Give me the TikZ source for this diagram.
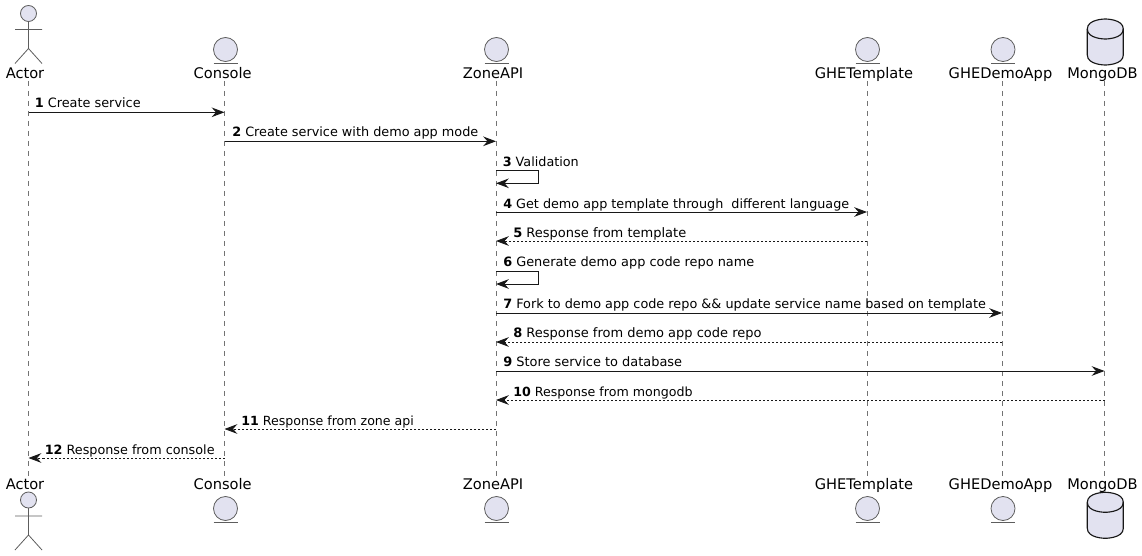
\documentclass[tikz,border=0pt]{standalone}
\usepackage{fontspec}
\setmainfont{DejaVu Sans}
\usetikzlibrary{arrows.meta}
\definecolor{partfill}{HTML}{E2E2F0}
\definecolor{linedark}{HTML}{181818}
\tikzset{
  plabel/.style={anchor=base,inner sep=0pt,font=\fontsize{10.97pt}{13pt}\selectfont,text=black},
  mlabel/.style={anchor=base west,inner sep=0pt,font=\fontsize{#1}{12pt}\selectfont,text=black},
  mlabel/.default=9.58pt,
  life/.style={draw=black!55,line width=0.55pt,dash pattern=on 3.75pt off 3.75pt},
  tip/.style={-{Stealth[length=9.6pt,width=7.2pt,inset=3.2pt]}},
  msg/.style={draw=linedark,line width=0.75pt,tip,fill=none},
  ret/.style={draw=linedark,line width=0.6pt,dash pattern=on 1.5pt off 1.5pt,tip},
  shapeline/.style={draw=linedark!70,line width=0.6pt,fill=partfill},
  pics/entitypic/.style={code={
    \draw[shapeline] (0,0) circle [radius=9pt];
    \draw[draw=linedark!70,line width=0.6pt] (-12,13.5) -- (12,13.5);
  }},
  pics/actorpic/.style={code={
    \draw[shapeline] (0,0) circle [radius=6pt];
    \draw[draw=linedark!70,line width=0.6pt] (0,8) -- (0,35) (-13.5,16) -- (13.5,16) (-13.5,50) -- (0,35) -- (13.5,50);
  }},
  pics/dbpic/.style={code={
    \draw[draw=linedark,line width=0.85pt,fill=partfill,line join=round]
      (-18,10) .. controls (-18,0) and (0,0) .. (0,0)
      .. controls (0,0) and (18,0) .. (18,10)
      -- (18,36) .. controls (18,46) and (0,46) .. (0,46)
      .. controls (0,46) and (-18,46) .. (-18,36) -- cycle;
    \draw[draw=linedark,line width=0.85pt]
      (-18,10) .. controls (-18,20) and (0,20) .. (0,20)
      .. controls (0,20) and (18,20) .. (18,10);
  }}
}
\begin{document}
\begin{tikzpicture}[x=0.75pt,y=-0.75pt]
\useasboundingbox (0,0) rectangle (1142,556);
% lifelines
\foreach \n/\x in {act/28.5,con/224.5,zon/496,tem/867,dem/1002,mon/1104.5}{
  \coordinate (\n T) at (\x,81);
  \coordinate (\n B) at (\x,476);
  \draw[life] (\n T) -- (\n B);
}
% top participants
\pic at (28.5,13.5) {actorpic};
\pic at (225.5,49.5) {entitypic};
\pic at (496.5,49.5) {entitypic};
\pic at (867.5,49.5) {entitypic};
\pic at (1003,49.5) {entitypic};
\pic at (1105.3,19) {dbpic};
\node[plabel] (actLT) at (25,78.6) {Actor};
\node[plabel] (conLT) at (222.7,78.6) {Console};
\node[plabel] (zonLT) at (493,78.6) {ZoneAPI};
\node[plabel] (temLT) at (864,78.6) {GHETemplate};
\node[plabel] (demLT) at (1000.5,78.6) {GHEDemoApp};
\node[plabel] (monLT) at (1102.5,78.6) {MongoDB};
% bottom participants
\node[plabel] (actLB) at (25,489.5) {Actor};
\node[plabel] (conLB) at (222.7,489.5) {Console};
\node[plabel] (zonLB) at (493,489.5) {ZoneAPI};
\node[plabel] (temLB) at (864,489.5) {GHETemplate};
\node[plabel] (demLB) at (1000.5,489.5) {GHEDemoApp};
\node[plabel] (monLB) at (1102.5,489.5) {MongoDB};
\pic at (28.5,500) {actorpic};
\pic at (225.5,508.5) {entitypic};
\pic at (496.5,508.5) {entitypic};
\pic at (867.5,508.5) {entitypic};
\pic at (1003,508.5) {entitypic};
\pic at (1105.3,492.3) {dbpic};
% messages
\node[mlabel=9.65pt] (m1) at (34.5,108) {\textbf{1} Create service};
\draw[msg] (actT |- 0,112.3) -- (conT |- 0,112.3);
\node[mlabel=9.62pt] (m2) at (232,137) {\textbf{2} Create service with demo app mode};
\draw[msg] (conT |- 0,141.3) -- (zonT |- 0,141.3);
\node[mlabel] (m3) at (502.5,166.5) {\textbf{3} Validation};
\draw[msg] (zonT |- 0,170.3) -- ++(42.7,0) -- ++(0,13) -- (zonT |- 0,183.3);
\node[mlabel] (m4) at (503,208.6) {\textbf{4} Get demo app template through\ \ different language};
\draw[msg] (zonT |- 0,212) -- (temT |- 0,212);
\node[mlabel=9.76pt] (m5) at (513,237.5) {\textbf{5} Response from template};
\draw[ret] (temT |- 0,241) -- (zonT |- 0,241);
\node[mlabel=9.66pt] (m6) at (503,266.5) {\textbf{6} Generate demo app code repo name};
\draw[msg] (zonT |- 0,271) -- ++(42.7,0) -- ++(0,13) -- (zonT |- 0,284);
\node[mlabel=9.62pt] (m7) at (503,308.5) {\textbf{7} Fork to demo app code repo \&\& update service name based on template};
\draw[msg] (zonT |- 0,313) -- (demT |- 0,313);
\node[mlabel=9.74pt] (m8) at (513,337.5) {\textbf{8} Response from demo app code repo};
\draw[ret] (demT |- 0,342) -- (zonT |- 0,342);
\node[mlabel=9.7pt] (m9) at (503,366.5) {\textbf{9} Store service to database};
\draw[msg] (zonT |- 0,371) -- (monT |- 0,371);
\node[mlabel=9.46pt] (m10) at (513,396) {\textbf{10} Response from mongodb};
\draw[ret] (monT |- 0,400) -- (zonT |- 0,400);
\node[mlabel=9.45pt] (m11) at (241,425) {\textbf{11} Response from zone api};
\draw[ret] (zonT |- 0,429) -- (conT |- 0,429);
\node[mlabel] (m12) at (44.5,454) {\textbf{12} Response from console};
\draw[ret] (conT |- 0,458) -- (actT |- 0,458);
\end{tikzpicture}
\end{document}
